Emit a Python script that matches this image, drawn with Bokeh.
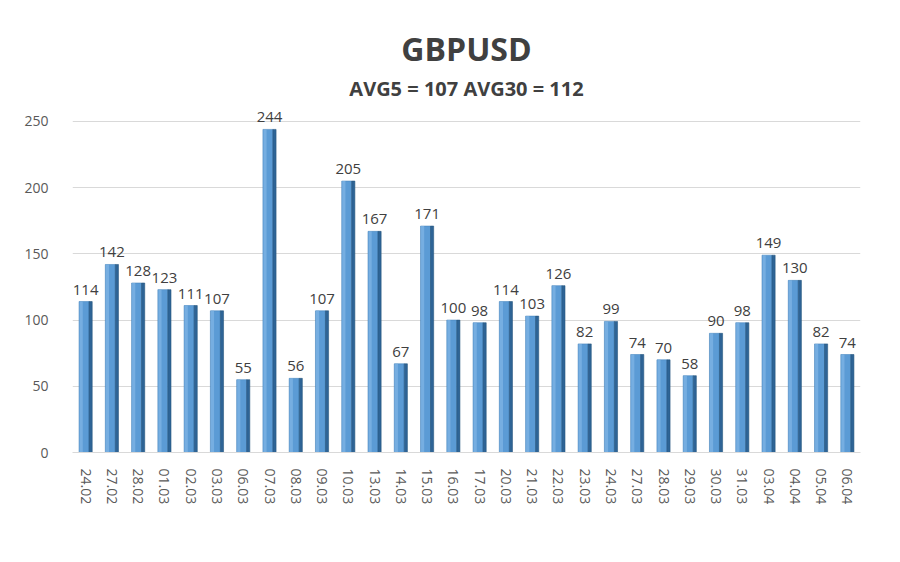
from bokeh.plotting import figure
from bokeh.models import ColumnDataSource, FixedTicker, Label, LabelSet, FactorRange
from bokeh.transform import dodge
from bokeh.embed import file_html
from bokeh.resources import INLINE
from bokeh.core.properties import value

dates = ["24.02", "27.02", "28.02", "01.03", "02.03", "03.03", "06.03", "07.03",
         "08.03", "09.03", "10.03", "13.03", "14.03", "15.03", "16.03", "17.03",
         "20.03", "21.03", "22.03", "23.03", "24.03", "27.03", "28.03", "29.03",
         "30.03", "31.03", "03.04", "04.04", "05.04", "06.04"]
volatility = [114, 142, 128, 123, 111, 107, 55, 244, 56, 107, 205, 167, 67, 171, 100,
              98, 114, 103, 126, 82, 99, 74, 70, 58, 90, 98, 149, 130, 82, 74]
y_ticks = [0, 50, 100, 150, 200, 250]
title_text = "GBPUSD"
subtitle_text = "AVG5 = 107 AVG30 = 112"

FONT = "Open Sans"

src = ColumnDataSource(dict(d=dates, v=volatility, lbl=[str(x) for x in volatility]))

p = figure(width=884, height=546, x_range=FactorRange(*dates, range_padding=0),
           y_range=(0, 333.8), output_backend="svg", toolbar_location=None,
           min_border_left=72, min_border_right=24, min_border_top=10,
           min_border_bottom=94)
p.outline_line_color = None
p.background_fill_color = "white"
p.border_fill_color = "white"

# bars: front face, highlight, side face
p.vbar(x=dodge("d", -0.06, range=p.x_range), top="v", width=0.38, source=src,
       fill_color="#5B9BD5", line_color="#4A86BE", line_width=0.6)
p.vbar(x=dodge("d", -0.17, range=p.x_range), top="v", width=0.12, source=src,
       fill_color="#7DB3E3", line_color=None, fill_alpha=0.8)
p.vbar(x=dodge("d", 0.19, range=p.x_range), top="v", width=0.12, source=src,
       fill_color="#2E6496", line_color="#27577F", line_width=0.6)

labels = LabelSet(x="d", y="v", text="lbl", source=src, text_align="center",
                  text_baseline="bottom", y_offset=7, text_font=value(FONT),
                  text_font_size="15px", text_color="#404040")
p.add_layout(labels)

p.add_layout(Label(x=15, y=305, text=title_text, text_align="center",
                   text_baseline="middle", text_font=FONT,
                   text_font_size="32px", text_font_style="bold",
                   text_color="#404040"))
p.add_layout(Label(x=15, y=275, text=subtitle_text, text_align="center",
                   text_baseline="middle", text_font=FONT,
                   text_font_size="20px", text_font_style="bold",
                   text_color="#404040"))

p.yaxis.ticker = FixedTicker(ticks=y_ticks)
p.yaxis.axis_line_color = None
p.yaxis.major_tick_line_color = None
p.yaxis.minor_tick_line_color = None
p.yaxis.major_label_standoff = 18
p.yaxis.major_label_text_font = FONT
p.yaxis.major_label_text_font_size = "14px"
p.yaxis.major_label_text_color = "#595959"

p.xaxis.axis_line_color = "#D9D9D9"
p.xaxis.major_tick_line_color = None
p.xaxis.minor_tick_line_color = None
p.xaxis.major_label_orientation = "vertical"
p.xaxis.major_label_standoff = 10
p.xaxis.major_label_text_font = FONT
p.xaxis.major_label_text_font_size = "14px"
p.xaxis.major_label_text_color = "#595959"

p.xgrid.grid_line_color = None
p.ygrid.grid_line_color = "#D9D9D9"
p.ygrid.grid_line_width = 1

open("out.html", "w").write(file_html(p, INLINE))
